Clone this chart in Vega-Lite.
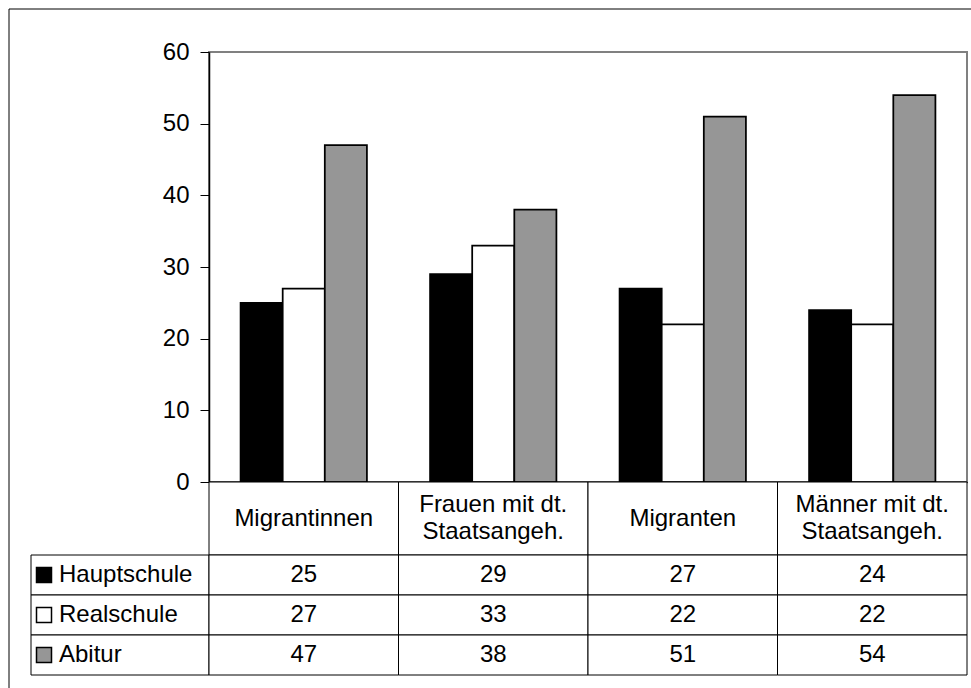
{
  "$schema": "https://vega.github.io/schema/vega-lite/v6.json",
  "padding": {"left": 8, "top": 8, "right": 0, "bottom": 0},
  "background": "white",
  "columns": 2,
  "spacing": 0,
  "bounds": "flush",
  "align": "each",
  "config": {
    "view": {"stroke": null},
    "font": "Liberation Sans",
    "text": {"font": "Liberation Sans", "fontSize": 24, "color": "black"},
    "rule": {"color": "black", "strokeWidth": 1},
    "axis": {"grid": false, "domainColor": "black", "tickColor": "black", "labelColor": "black", "labelFont": "Liberation Sans"}
  },
  "datasets": {
    "scores": [
      {"group": "Migrantinnen", "series": "Hauptschule", "value": 25},
      {"group": "Migrantinnen", "series": "Realschule", "value": 27},
      {"group": "Migrantinnen", "series": "Abitur", "value": 47},
      {"group": "Frauen mit dt. Staatsangeh.", "series": "Hauptschule", "value": 29},
      {"group": "Frauen mit dt. Staatsangeh.", "series": "Realschule", "value": 33},
      {"group": "Frauen mit dt. Staatsangeh.", "series": "Abitur", "value": 38},
      {"group": "Migranten", "series": "Hauptschule", "value": 27},
      {"group": "Migranten", "series": "Realschule", "value": 22},
      {"group": "Migranten", "series": "Abitur", "value": 51},
      {"group": "Männer mit dt. Staatsangeh.", "series": "Hauptschule", "value": 24},
      {"group": "Männer mit dt. Staatsangeh.", "series": "Realschule", "value": 22},
      {"group": "Männer mit dt. Staatsangeh.", "series": "Abitur", "value": 54}
    ],
    "groups": [
      {"group": "Migrantinnen", "label": "Migrantinnen"},
      {"group": "Frauen mit dt. Staatsangeh.", "label": "Frauen mit dt.\nStaatsangeh."},
      {"group": "Migranten", "label": "Migranten"},
      {"group": "Männer mit dt. Staatsangeh.", "label": "Männer mit dt.\nStaatsangeh."}
    ],
    "series": [
      {"series": "Hauptschule"},
      {"series": "Realschule"},
      {"series": "Abitur"}
    ],
    "frame": [{}]
  },
  "concat": [
    {
      "width": 200,
      "height": 43,
      "data": {"name": "frame"},
      "layer": [
        {"mark": "rule",
         "encoding": {"x": {"datum": 0, "type": "quantitative", "scale": {"domain": [0, 1]}, "axis": null}}},
        {"mark": "rule",
         "encoding": {"y": {"datum": 1, "type": "quantitative", "scale": {"domain": [0, 1]}, "axis": null}}}
      ]
    },
    {
      "width": 763,
      "height": 43,
      "data": {"name": "frame"},
      "mark": "rule",
      "encoding": {"y": {"datum": 1, "type": "quantitative", "scale": {"domain": [0, 1]}, "axis": null}}
    },
    {
      "width": 200,
      "height": 430,
      "data": {"name": "frame"},
      "mark": "rule",
      "encoding": {"x": {"datum": 0, "type": "quantitative", "scale": {"domain": [0, 1]}, "axis": null}}
    },
    {
      "width": 758,
      "height": 430,
      "view": {"stroke": "#808080", "strokeWidth": 2},
      "data": {"name": "scores"},
      "mark": {"type": "bar", "stroke": "black", "strokeWidth": 1.75},
      "encoding": {
        "x": {"field": "group", "type": "nominal",
              "sort": ["Migrantinnen", "Frauen mit dt. Staatsangeh.", "Migranten", "Männer mit dt. Staatsangeh."],
              "scale": {"paddingInner": 0, "paddingOuter": 0},
              "axis": {"orient": "bottom", "labels": false, "ticks": false, "domain": true, "domainWidth": 1.5, "title": null, "zindex": 1}},
        "xOffset": {"field": "series", "type": "nominal", "sort": ["Hauptschule", "Realschule", "Abitur"],
                    "scale": {"paddingInner": 0, "paddingOuter": 0.75}},
        "y": {"field": "value", "type": "quantitative", "scale": {"domain": [0, 60]},
              "axis": {"values": [0, 10, 20, 30, 40, 50, 60], "tickSize": 9, "tickWidth": 1, "labelPadding": 11,
                       "labelFontSize": 24, "domainWidth": 1.5, "title": null, "zindex": 1}},
        "fill": {"field": "series", "type": "nominal", "sort": ["Hauptschule", "Realschule", "Abitur"],
                 "scale": {"domain": ["Hauptschule", "Realschule", "Abitur"], "range": ["black", "white", "#969696"]},
                 "legend": null}
      }
    },
    {
      "width": 200,
      "height": 73,
      "data": {"name": "frame"},
      "mark": "rule",
      "encoding": {"x": {"datum": 0, "type": "quantitative", "scale": {"domain": [0, 1]}, "axis": null}}
    },
    {
      "width": 758,
      "height": 73,
      "data": {"name": "groups"},
      "encoding": {
        "x": {"field": "group", "type": "nominal",
              "sort": ["Migrantinnen", "Frauen mit dt. Staatsangeh.", "Migranten", "Männer mit dt. Staatsangeh."],
              "scale": {"paddingInner": 0, "paddingOuter": 0}, "axis": null}
      },
      "layer": [
        {"mark": {"type": "rect", "fill": "white", "stroke": "black", "strokeWidth": 1}},
        {"transform": [{"filter": "indexof(datum.label, '\\n') < 0"}],
         "mark": {"type": "text"},
         "encoding": {"text": {"field": "label", "type": "nominal"}}},
        {"transform": [{"filter": "indexof(datum.label, '\\n') >= 0"}],
         "mark": {"type": "text", "lineBreak": "\n", "lineHeight": 27, "dy": -13.5},
         "encoding": {"text": {"field": "label", "type": "nominal"}}}
      ]
    },
    {
      "width": 200,
      "height": 120,
      "resolve": {"scale": {"x": "independent"}},
      "layer": [
        {"data": {"name": "frame"},
         "mark": "rule",
         "encoding": {"x": {"datum": 0, "type": "quantitative", "scale": {"domain": [0, 1]}, "axis": null}}},
        {"data": {"name": "series"},
         "layer": [
           {"mark": {"type": "rect", "fill": "white", "stroke": "black", "strokeWidth": 1},
            "encoding": {"x": {"datum": "Legende", "type": "nominal",
                               "scale": {"paddingInner": 0, "paddingOuter": 0.0618, "align": 1}, "axis": null},
                         "y": {"field": "series", "type": "nominal", "sort": ["Hauptschule", "Realschule", "Abitur"],
                               "scale": {"paddingInner": 0, "paddingOuter": 0}, "axis": null}}},
           {"mark": {"type": "point", "shape": "square", "size": 225, "filled": true, "opacity": 1,
                     "stroke": "black", "strokeWidth": 1.5, "xOffset": 13},
            "encoding": {"x": {"datum": "Legende", "type": "nominal", "bandPosition": 0, "axis": null},
                         "y": {"field": "series", "type": "nominal", "sort": ["Hauptschule", "Realschule", "Abitur"], "axis": null},
                         "fill": {"field": "series", "type": "nominal",
                                  "scale": {"domain": ["Hauptschule", "Realschule", "Abitur"], "range": ["black", "white", "#969696"]},
                                  "legend": null}}},
           {"mark": {"type": "text", "align": "left", "dx": 28},
            "encoding": {"x": {"datum": "Legende", "type": "nominal", "bandPosition": 0, "axis": null},
                         "y": {"field": "series", "type": "nominal", "sort": ["Hauptschule", "Realschule", "Abitur"], "axis": null},
                         "text": {"field": "series", "type": "nominal"}}}
         ]}
      ]
    },
    {
      "width": 758,
      "height": 120,
      "data": {"name": "scores"},
      "encoding": {
        "x": {"field": "group", "type": "nominal",
              "sort": ["Migrantinnen", "Frauen mit dt. Staatsangeh.", "Migranten", "Männer mit dt. Staatsangeh."],
              "scale": {"paddingInner": 0, "paddingOuter": 0}, "axis": null},
        "y": {"field": "series", "type": "nominal", "sort": ["Hauptschule", "Realschule", "Abitur"],
              "scale": {"paddingInner": 0, "paddingOuter": 0}, "axis": null}
      },
      "layer": [
        {"mark": {"type": "rect", "fill": "white", "stroke": "black", "strokeWidth": 1}},
        {"mark": {"type": "text"},
         "encoding": {"text": {"field": "value", "type": "quantitative"}}}
      ]
    },
    {
      "width": 200,
      "height": 14,
      "data": {"name": "frame"},
      "mark": "rule",
      "encoding": {"x": {"datum": 0, "type": "quantitative", "scale": {"domain": [0, 1]}, "axis": null}}
    }
  ]
}
